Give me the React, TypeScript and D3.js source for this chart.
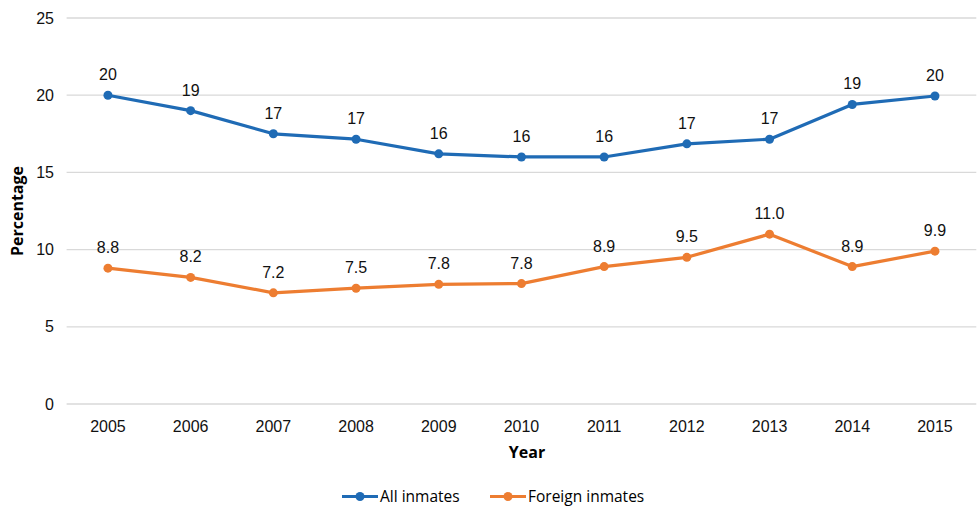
import * as d3 from "d3";

const years = ["2005", "2006", "2007", "2008", "2009", "2010", "2011", "2012", "2013", "2014", "2015"];
const allInmates = [20.0, 19.0, 17.5, 17.15, 16.2, 16.0, 16.0, 16.85, 17.15, 19.4, 19.95];
const allLabels = ["20", "19", "17", "17", "16", "16", "16", "17", "17", "19", "20"];
const foreignInmates = [8.8, 8.2, 7.2, 7.5, 7.75, 7.8, 8.9, 9.5, 11.0, 8.9, 9.9];
const foreignLabels = ["8.8", "8.2", "7.2", "7.5", "7.8", "7.8", "8.9", "9.5", "11.0", "8.9", "9.9"];
const yTicks = [0, 5, 10, 15, 20, 25];

const W = 977;
const H = 506;
const left = 66.6;
const right = 976.3;
const top = 18;
const bottom = 404;

const BLUE = "#1f6bb5";
const ORANGE = "#ed7d31";
const tickFont = "'Liberation Sans', Arial, sans-serif";
const titleFont = "'Open Sans', 'DejaVu Sans', sans-serif";

export default function App() {
  const x = d3.scaleBand().domain(years).range([left, right]);
  const y = d3.scaleLinear().domain([0, 25]).range([bottom, top]);
  const cx = (yr: string) => (x(yr) ?? 0) + x.bandwidth() / 2;

  const line = d3.line<number>()
    .x((_, i) => cx(years[i]))
    .y((d) => y(d));

  const series = [
    { name: "All inmates", values: allInmates, labels: allLabels, color: BLUE },
    { name: "Foreign inmates", values: foreignInmates, labels: foreignLabels, color: ORANGE },
  ];

  return (
    <div style={{ position: "absolute", left: 0, top: 0 }}>
      <svg width={W} height={H} style={{ display: "block", background: "#fff" }}>
        {yTicks.map((t) => (
          <g key={t}>
            <line x1={left} x2={right} y1={y(t)} y2={y(t)} stroke="#d9d9d9" strokeWidth={1.3} />
            <text x={54} y={y(t)} dy="0.35em" textAnchor="end" fontSize={16} fontFamily={tickFont} fill="#111">
              {t}
            </text>
          </g>
        ))}
        {years.map((yr) => (
          <text key={yr} x={cx(yr)} y={432} textAnchor="middle" fontSize={16} fontFamily={tickFont} fill="#111">
            {yr}
          </text>
        ))}
        <text x={527} y={457.5} textAnchor="middle" fontSize={16} fontWeight="bold" fontFamily={titleFont} fill="#000">
          Year
        </text>
        <text
          transform={`translate(23,${(top + bottom) / 2}) rotate(-90)`}
          textAnchor="middle"
          fontSize={16}
          fontWeight="bold"
          fontFamily={titleFont}
          fill="#000"
        >
          Percentage
        </text>

        {series.map((s) => (
          <g key={s.name}>
            <path d={line(s.values) ?? ""} fill="none" stroke={s.color} strokeWidth={3.2} strokeLinejoin="round" />
            {s.values.map((v, i) => (
              <g key={i}>
                <circle cx={cx(years[i])} cy={y(v)} r={4.5} fill={s.color} />
                <text
                  x={cx(years[i])}
                  y={y(v) - 15}
                  textAnchor="middle"
                  fontSize={16}
                  fontFamily={tickFont}
                  fill="#111"
                >
                  {s.labels[i]}
                </text>
              </g>
            ))}
          </g>
        ))}

        {series.map((s, i) => {
          const lx = [342, 490][i];
          return (
            <g key={s.name}>
              <line x1={lx} x2={lx + 36} y1={496.5} y2={496.5} stroke={s.color} strokeWidth={3.2} />
              <circle cx={lx + 18} cy={496.5} r={4.5} fill={s.color} />
              <text x={lx + 38} y={501.5} fontSize={15.5} fontFamily={titleFont} fill="#000">
                {s.name}
              </text>
            </g>
          );
        })}
      </svg>
    </div>
  );
}
